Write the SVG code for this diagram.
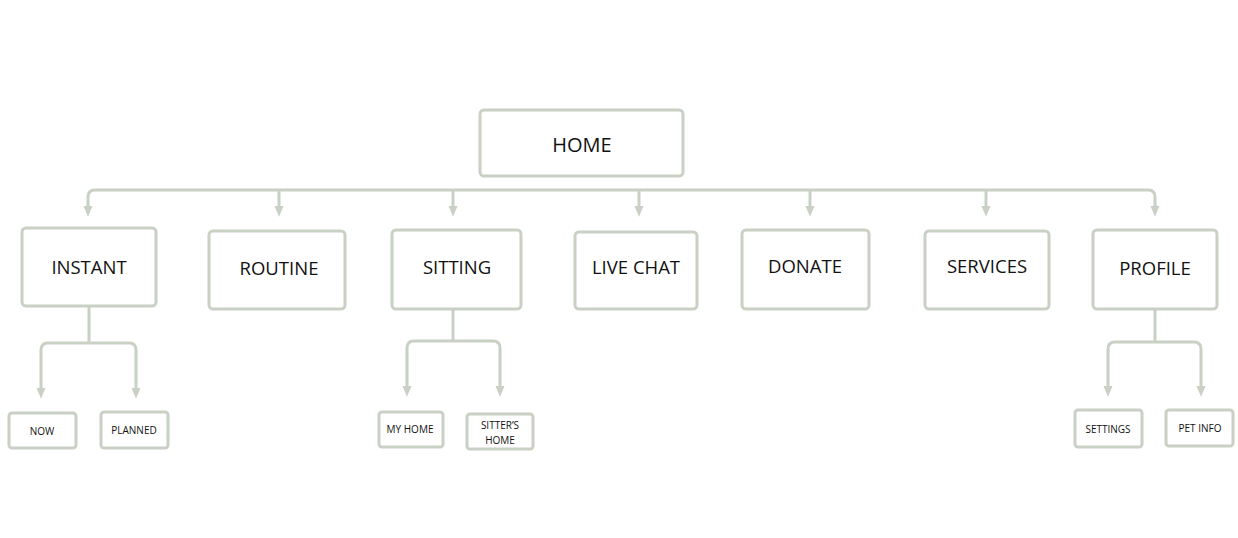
<svg xmlns="http://www.w3.org/2000/svg" width="1238" height="538" viewBox="0 0 1238 538">
<style>
.box{fill:#fff;stroke:#c9d0c4;stroke-width:3}
.ln{fill:none;stroke:#c9d0c4;stroke-width:3;stroke-linejoin:round}
.t{font-family:"Open Sans","DejaVu Sans",sans-serif;fill:#111;text-anchor:middle;dominant-baseline:central}
.big{font-size:18.5px}
.home{font-size:20px}
.sm{font-size:10px}
</style>
<defs>
<marker id="arr" markerWidth="4" markerHeight="4" refX="2" refY="2" orient="auto" markerUnits="strokeWidth">
<path d="M0,0.5 L3.6,2 L0,3.5 Z" fill="#c9d0c4"/>
</marker>
</defs>
<rect width="1238" height="538" fill="#fff"/>
<g id="connectors">
<path class="ln" d="M88,212 V197 Q88,190 95,190 H1148 Q1155,190 1155,197 V212"/>
<path class="ln" d="M88,205 V212" marker-end="url(#arr)"/>
<path class="ln" d="M279,190 V212" marker-end="url(#arr)"/>
<path class="ln" d="M453,190 V212" marker-end="url(#arr)"/>
<path class="ln" d="M639,190 V212" marker-end="url(#arr)"/>
<path class="ln" d="M810,190 V212" marker-end="url(#arr)"/>
<path class="ln" d="M986,190 V212" marker-end="url(#arr)"/>
<path class="ln" d="M1155,205 V212" marker-end="url(#arr)"/>
<path class="ln" d="M89,306 V343"/>
<path class="ln" d="M41,394 V350 Q41,343 48,343 H129 Q136,343 136,350 V394"/>
<path class="ln" d="M41,388 V394" marker-end="url(#arr)"/>
<path class="ln" d="M136,388 V394" marker-end="url(#arr)"/>
<path class="ln" d="M453,309 V341"/>
<path class="ln" d="M407,392 V348 Q407,341 414,341 H493 Q500,341 500,348 V392"/>
<path class="ln" d="M407,386 V392" marker-end="url(#arr)"/>
<path class="ln" d="M500,386 V392" marker-end="url(#arr)"/>
<path class="ln" d="M1155,309 V342"/>
<path class="ln" d="M1108,392 V349 Q1108,342 1115,342 H1194 Q1201,342 1201,349 V392"/>
<path class="ln" d="M1108,386 V392" marker-end="url(#arr)"/>
<path class="ln" d="M1201,386 V392" marker-end="url(#arr)"/>
</g>
<g id="home"><rect class="box" x="480" y="110" width="203" height="66" rx="4"/><text class="t home" x="582" y="144">HOME</text></g>
<g id="instant"><rect class="box" x="22" y="228" width="134" height="78" rx="4"/><text class="t big" x="89" y="266">INSTANT</text></g>
<g id="routine"><rect class="box" x="209" y="231" width="136" height="78" rx="4"/><text class="t big" x="279" y="267">ROUTINE</text></g>
<g id="sitting"><rect class="box" x="392" y="230" width="129" height="79" rx="4"/><text class="t big" x="457" y="266">SITTING</text></g>
<g id="livechat"><rect class="box" x="575" y="232" width="122" height="77" rx="4"/><text class="t big" x="636" y="266">LIVE CHAT</text></g>
<g id="donate"><rect class="box" x="742" y="230" width="127" height="79" rx="4"/><text class="t big" x="805" y="265">DONATE</text></g>
<g id="services"><rect class="box" x="925" y="231" width="124" height="78" rx="4"/><text class="t big" x="987" y="265">SERVICES</text></g>
<g id="profile"><rect class="box" x="1093" y="230" width="124" height="79" rx="4"/><text class="t big" x="1155" y="267">PROFILE</text></g>
<g id="now"><rect class="box" x="9" y="413" width="67" height="35" rx="3"/><text class="t sm" x="42" y="431">NOW</text></g>
<g id="planned"><rect class="box" x="101" y="412" width="67" height="36" rx="3"/><text class="t sm" x="134" y="430">PLANNED</text></g>
<g id="myhome"><rect class="box" x="379" y="412" width="64" height="35" rx="3"/><text class="t sm" x="410" y="429">MY HOME</text></g>
<g id="sittershome"><rect class="box" x="467" y="414" width="66" height="35" rx="3"/><text class="t sm" x="500" y="425">SITTER’S</text><text class="t sm" x="500" y="440">HOME</text></g>
<g id="settings"><rect class="box" x="1075" y="410" width="67" height="37" rx="3"/><text class="t sm" x="1108" y="429">SETTINGS</text></g>
<g id="petinfo"><rect class="box" x="1166" y="410" width="67" height="36" rx="3"/><text class="t sm" x="1200" y="428">PET INFO</text></g>
</svg>
